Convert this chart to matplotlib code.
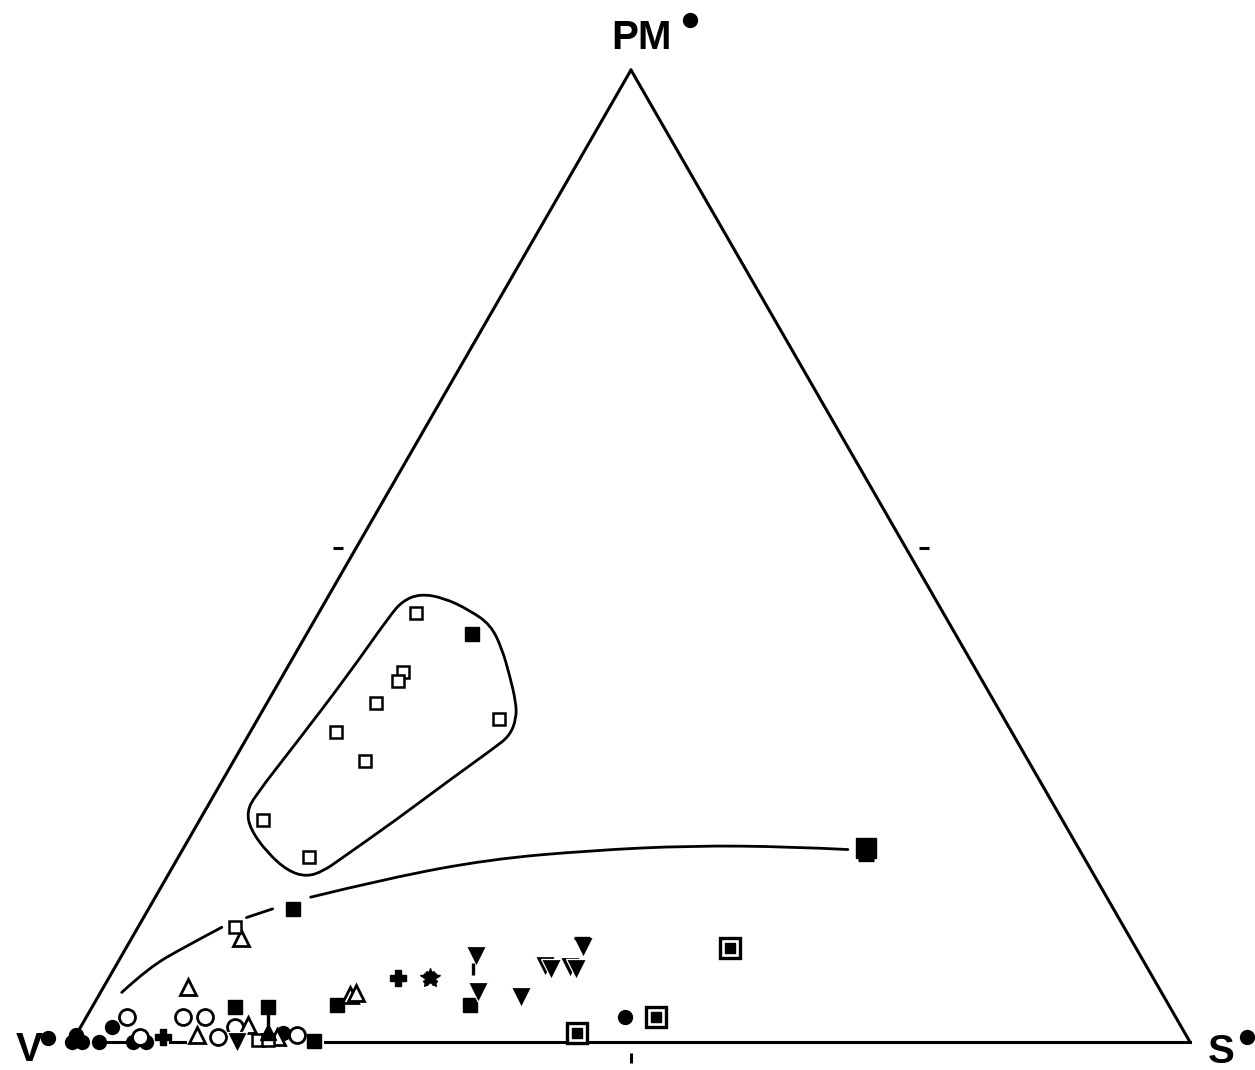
import numpy as np
import matplotlib
matplotlib.use("Agg")
import matplotlib.pyplot as plt
from matplotlib.path import Path
from matplotlib.patches import PathPatch

# ternary data, values in percent: S (to the right), PM (to the top); V = 100 - S - PM
open_sq_S = [8.7, 10.6, 10.6, 9.7, 7.7, 11.8, 21.6, 5.7, 11.7, 8.7, 16.5, 17.4]
open_sq_PM = [44.1, 38.1, 37.1, 34.9, 31.9, 28.9, 33.2, 22.8, 19.0, 11.8, 0.2, 0.2]

filled_sq_S = [14.8, 12.9, 12.8, 15.7, 21.6, 21.8, 33.7]
filled_sq_PM = [42.0, 13.7, 3.6, 3.6, 0.1, 3.8, 3.8]

filled_circ_S = [0.0, 0.0, 0.9, 2.4, 2.8, 5.5, 6.6, 18.4, 48.2]
filled_circ_PM = [0.7, 0.0, 0.0, 0.0, 1.5, 0.0, 0.0, 0.9, 2.6]

open_circ_S = [3.6, 5.8, 8.6, 10.6, 12.8, 13.8, 19.8]
open_circ_PM = [2.6, 0.5, 2.6, 2.6, 0.5, 1.5, 0.7]

open_tri_S = [7.5, 9.8, 10.8, 14.8, 18.1, 22.5, 22.9]
open_tri_PM = [5.7, 10.7, 0.7, 1.8, 0.5, 4.8, 5.0]

filled_tri_S = [17.0]
filled_tri_PM = [1.0]

inv_tri_S = [14.8, 31.7, 33.8, 37.9, 38.4, 39.1, 40.7, 41.3, 40.8]
inv_tri_PM = [0.0, 8.8, 5.1, 4.6, 7.8, 7.5, 7.7, 7.5, 9.8]

plus_S = [7.9, 25.9]
plus_PM = [0.5, 6.6]

star_S = [28.7]
star_PM = [6.6]

framed_sq_S = [44.7, 50.9, 54.0]
framed_sq_PM = [0.9, 2.6, 9.7]

big_sq_S = [61.0]
big_sq_PM = [20.0]

# little strokes that belong to some of the symbols
stem_S = [16.4, 32.1]
stem_PM = [2.3, 7.5]
bar_S = [40.3, 61.7]
bar_PM = [10.7, 18.7]

# trend curve, drawn in three pieces (broken at the symbols)
curve_S = [[1.9, 3.0, 5.2, 7.5],
           [9.2, 11.1],
           [13.9, 20.0, 28.0, 36.5, 45.2, 54.2, 59.5]]
curve_PM = [[5.1, 7.6, 9.8, 11.8],
            [12.8, 13.7],
            [14.9, 16.9, 18.8, 19.7, 20.2, 20.1, 19.8]]

# outline round the PM rich group
hull_S = [8.1, 10.4, 13.4, 16.0, 18.2, 20.3, 22.2, 23.1, 23.4, 22.6, 20.2, 17.6,
          14.6, 13.7, 12.5, 10.5, 7.7, 5.0, 3.8, 3.7, 4.7, 5.8, 6.5, 6.9]
hull_PM = [46.1, 45.7, 44.4, 42.9, 40.5, 37.7, 35.0, 33.3, 31.5, 30.2, 26.8, 22.9,
           18.8, 17.6, 17.0, 17.6, 19.5, 21.9, 23.7, 25.3, 30.9, 37.7, 43.9, 45.4]

# pieces of the V-S side that are visible
base_pieces = [(3.2, 4.7), (8.8, 10.1), (22.6, 44.1), (46.3, 100.0)]


def tern(S, PM):
    S = np.asarray(S, dtype=float) / 100.0
    PM = np.asarray(PM, dtype=float) / 100.0
    return S + PM / 2.0, PM * np.sqrt(3) / 2.0


def smooth_path(x, y, closed=False):
    # quadratic pieces through the mid points, read points act as controls
    P = np.column_stack([x, y])
    if closed:
        P = np.vstack([P, P[:2]])
        verts = [(P[0] + P[1]) / 2]
        codes = [Path.MOVETO]
        for i in range(1, len(P) - 1):
            verts += [P[i], (P[i] + P[i + 1]) / 2]
            codes += [Path.CURVE3, Path.CURVE3]
    else:
        if len(P) < 3:
            return Path(P)
        verts = [P[0]]
        codes = [Path.MOVETO]
        for i in range(1, len(P) - 2):
            verts += [P[i], (P[i] + P[i + 1]) / 2]
            codes += [Path.CURVE3, Path.CURVE3]
        verts += [P[-2], P[-1]]
        codes += [Path.CURVE3, Path.CURVE3]
    return Path(np.array(verts), codes)


fig = plt.figure(figsize=(12.55, 10.70), dpi=100)
ax = fig.add_axes([0, 0, 1, 1])
ax.set_xlim(-72 / 1118, 1183 / 1118)
ax.set_ylim(-28 / 1122.4, 1042 / 1122.4)
ax.axis("off")

k = "black"

# triangle sides
x, y = tern([0, 0], [0, 100])
ax.plot(x, y, color=k, lw=2.2, solid_capstyle="round", zorder=1)
x, y = tern([0, 100], [100, 0])
ax.plot(x, y, color=k, lw=2.2, solid_capstyle="round", zorder=1)
for a, b in base_pieces:
    x, y = tern([a, b], [0, 0])
    ax.plot(x, y, color=k, lw=2.2, zorder=1)

# 50 % ticks, just outside each side
x, y = tern([-1.6], [50.8])
ax.plot(x, y, marker="_", ms=7, mew=2.2, color=k)
x, y = tern([50.8], [50.8])
ax.plot(x, y, marker="_", ms=7, mew=2.2, color=k)
x, y = tern([50.8], [-1.6])
ax.plot(x, y, marker="|", ms=7, mew=2.2, color=k)

# curve and outline
for cs, cp in zip(curve_S, curve_PM):
    x, y = tern(cs, cp)
    ax.add_patch(PathPatch(smooth_path(x, y), fill=False, ec=k, lw=2.0,
                           capstyle="round", zorder=1))
x, y = tern(hull_S, hull_PM)
ax.add_patch(PathPatch(smooth_path(x, y, closed=True), fill=False, ec=k, lw=2.0,
                       zorder=1))

# symbols
x, y = tern(filled_circ_S, filled_circ_PM)
ax.plot(x, y, "o", ms=10, color=k, zorder=3)
x, y = tern(open_circ_S, open_circ_PM)
ax.plot(x, y, "o", ms=11.5, mfc="white", mec=k, mew=2.0, zorder=4)
x, y = tern(open_tri_S, open_tri_PM)
ax.plot(x, y, "^", ms=11.5, mfc="white", mec=k, mew=2.0, zorder=4)
x, y = tern(filled_tri_S, filled_tri_PM)
ax.plot(x, y, "^", ms=12, color=k, zorder=5)
x, y = tern(inv_tri_S, inv_tri_PM)
ax.plot(x, y, "v", ms=14, mfc=k, mec="white", mew=0.9, zorder=5)
x, y = tern(filled_sq_S, filled_sq_PM)
ax.plot(x, y, "s", ms=10, color=k, zorder=3)
x, y = tern(open_sq_S, open_sq_PM)
ax.plot(x, y, "s", ms=8.5, mfc="white", mec=k, mew=1.8, zorder=4)
x, y = tern(plus_S, plus_PM)
ax.plot(x, y, "P", ms=11, color=k, zorder=4)
x, y = tern(star_S, star_PM)
ax.plot(x, y, "*", ms=15, color=k, zorder=4)
ax.plot(x, y, "X", ms=10, color=k, zorder=4)
x, y = tern(framed_sq_S, framed_sq_PM)
ax.plot(x, y, "s", ms=15, mfc="white", mec=k, mew=2.4, zorder=4)
ax.plot(x, y, "s", ms=7.5, color=k, zorder=5)
x, y = tern(big_sq_S, big_sq_PM)
ax.plot(x, y, "s", ms=15, color=k, zorder=4)
x, y = tern(stem_S, stem_PM)
ax.plot(x, y, "|", ms=9, mew=2.4, color=k, zorder=5)
x, y = tern(bar_S, bar_PM)
ax.plot(x, y, "_", ms=12, mew=2.4, color=k, zorder=5)

# corner labels
lab = dict(fontsize=29, fontweight="bold", family="Liberation Sans",
           ha="center", va="center", color=k)
ax.text(0.5098, 0.8945, "PM", **lab)
ax.text(-0.0385, -0.0075, "V", **lab)
ax.text(1.0277, -0.0085, "S", **lab)
ax.plot([0.5528, -0.0215, 1.051], [0.9105, 0.0036, 0.0045], "o", ms=10, color=k,
        clip_on=False)

fig.savefig("out.png", dpi=100)
